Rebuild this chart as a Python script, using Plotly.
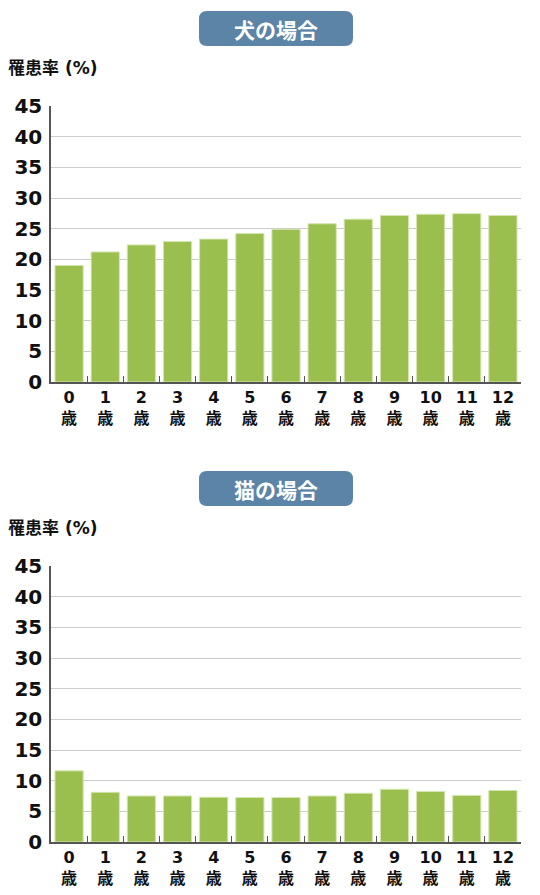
import plotly.graph_objects as go

categories = [f"{i}<br>歳" for i in range(13)]
dog_values = [19.0, 21.2, 22.35, 22.9, 23.3, 24.2, 24.9, 25.8, 26.55, 27.15, 27.35, 27.45, 27.15]
cat_values = [11.6, 8.1, 7.5, 7.5, 7.3, 7.25, 7.25, 7.5, 7.95, 8.6, 8.25, 7.6, 8.4]
y_ticks = [0, 5, 10, 15, 20, 25, 30, 35, 40, 45]
titles = ["犬の場合", "猫の場合"]
y_title = "罹患率 (%)"

OFF = 8  # page body margin
W, H = 540 - OFF, 895 - OFF
FONT = "DejaVu Sans, Noto Sans CJK JP, sans-serif"
BAR = "#9bbf4f"
BAR_EDGE = "#d3e6ad"
BADGE = "#5b84a6"

def px(x):
    return (x - OFF) / W

def py(y):
    return 1 - (y - OFF) / H

fig = go.Figure()
panels = [
    dict(values=dog_values, top=106, bottom=382, badge=(199, 11, 353, 46), ytitle_y=68, ax=""),
    dict(values=cat_values, top=566, bottom=842, badge=(199, 471, 353, 506), ytitle_y=528, ax="2"),
]

shapes = []
annotations = []
for i, p in enumerate(panels):
    xa = "x" + p["ax"]
    ya = "y" + p["ax"]
    fig.add_trace(go.Bar(
        x=categories, y=p["values"], xaxis=xa, yaxis=ya,
        marker=dict(color=BAR, line=dict(color=BAR_EDGE, width=1)),
        width=0.78, showlegend=False, hoverinfo="y",
    ))
    axis_common_x = dict(
        domain=[px(51), px(521)], type="category", showline=True, linecolor="#555555",
        linewidth=1.5, ticks="inside", tickson="boundaries", ticklen=6, tickcolor="#555555",
        tickfont=dict(family=FONT, size=16, color="#111111", weight="bold"), showgrid=False,
        anchor=ya, fixedrange=True, automargin=False,
    )
    axis_common_y = dict(
        domain=[py(p["bottom"]), py(p["top"])], range=[0, 45], tickvals=y_ticks,
        showline=True, linecolor="#555555", linewidth=1.5, ticks="", showgrid=True,
        gridcolor="#cccccc", gridwidth=1.2, zeroline=False,
        tickfont=dict(family=FONT, size=20, color="#111111", weight="bold"), ticklabelstandoff=3,
        anchor=xa, fixedrange=True, automargin=False,
    )
    if p["ax"] == "":
        fig.update_layout(xaxis=axis_common_x, yaxis=axis_common_y)
    else:
        fig.update_layout(xaxis2=axis_common_x, yaxis2=axis_common_y)

    x0, y0, x1, y1 = p["badge"]
    r = 8
    X0, X1 = px(x0), px(x1)
    Y0, Y1 = py(y0), py(y1)
    rx, ry = r / W, r / H
    path = (f"M {X0+rx},{Y0} L {X1-rx},{Y0} Q {X1},{Y0} {X1},{Y0-ry} "
            f"L {X1},{Y1+ry} Q {X1},{Y1} {X1-rx},{Y1} L {X0+rx},{Y1} "
            f"Q {X0},{Y1} {X0},{Y1+ry} L {X0},{Y0-ry} Q {X0},{Y0} {X0+rx},{Y0} Z")
    shapes.append(dict(type="path", path=path, xref="paper", yref="paper",
                       fillcolor=BADGE, line=dict(width=0), layer="below"))
    annotations.append(dict(text=f"<b>{titles[i]}</b>", x=px((x0 + x1) / 2), y=py((y0 + y1) / 2),
                            xref="paper", yref="paper", showarrow=False,
                            xanchor="center", yanchor="middle",
                            font=dict(family="Noto Sans CJK JP", size=21, color="white")))
    annotations.append(dict(text=f"<b>{y_title}</b>", x=px(6), y=py(p["ytitle_y"]),
                            xref="paper", yref="paper", showarrow=False,
                            xanchor="left", yanchor="middle",
                            font=dict(family=FONT, size=17, color="#111111")))

fig.update_layout(
    width=W, height=H, margin=dict(l=0, r=0, t=0, b=0),
    paper_bgcolor="white", plot_bgcolor="white",
    shapes=shapes, annotations=annotations, bargap=0.22,
    font=dict(family=FONT),
)

fig.write_html("out.html", config={"displayModeBar": False})
